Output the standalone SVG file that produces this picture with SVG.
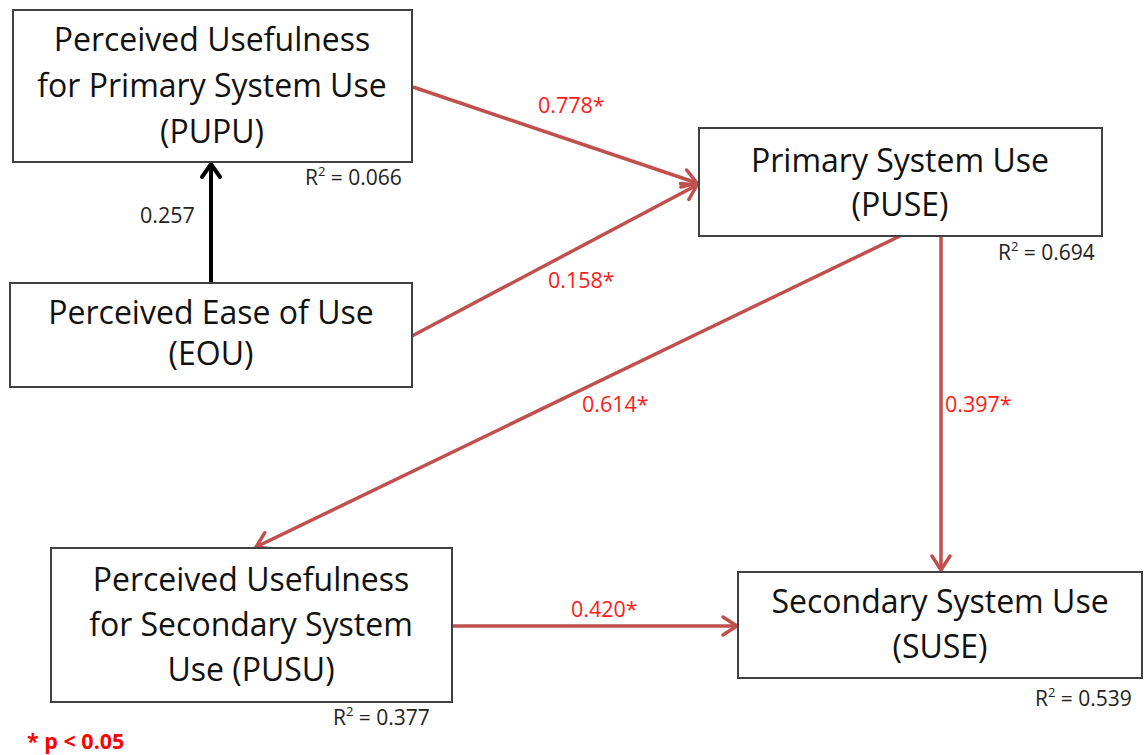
<svg xmlns="http://www.w3.org/2000/svg" width="1146" height="755" viewBox="0 0 1146 755">
<style>
.box{fill:#fff;stroke:#404040;stroke-width:2}
.t{font-family:"Open Sans",Lato,sans-serif;font-size:32px;fill:#111;text-anchor:middle}
.r2{font-family:"Open Sans",Lato,sans-serif;font-size:21px;fill:#222}
.lbl{font-family:"Open Sans",Lato,sans-serif;font-size:21.5px;fill:#ff1a1a}
.red{stroke:#c0504d;stroke-width:3.5;fill:none}
.blk{stroke:#000;stroke-width:4;fill:none}
</style>
<defs>
<marker id="ar" markerUnits="userSpaceOnUse" markerWidth="40" markerHeight="40" viewBox="-20 -20 40 40" refX="0" refY="0" orient="auto" overflow="visible">
<path d="M-14,-9 L0,0 L-14,9" fill="none" stroke="#c0504d" stroke-width="3.5" stroke-linecap="round" stroke-linejoin="miter"/>
</marker>
<marker id="ab" markerUnits="userSpaceOnUse" markerWidth="40" markerHeight="40" viewBox="-20 -20 40 40" refX="0" refY="0" orient="auto" overflow="visible">
<path d="M-13,-9 L0,0 L-13,9" fill="none" stroke="#000" stroke-width="4" stroke-linecap="round"/>
</marker>
</defs>
<rect width="1146" height="755" fill="#fff"/>
<g id="connectors">
<line class="blk" x1="211" y1="283" x2="211" y2="164" marker-end="url(#ab)"/>
<line class="red" x1="413" y1="87" x2="697" y2="183" marker-end="url(#ar)"/>
<line class="red" x1="412" y1="336" x2="697" y2="185" marker-end="url(#ar)"/>
<line class="red" x1="900" y1="236" x2="256" y2="547" marker-end="url(#ar)"/>
<line class="red" x1="941" y1="236" x2="941" y2="570" marker-end="url(#ar)"/>
<line class="red" x1="452" y1="626" x2="737" y2="626" marker-end="url(#ar)"/>
<text class="lbl" x="140" y="223" style="fill:#222">0.257</text>
<text class="lbl" x="538" y="113">0.778*</text>
<text class="lbl" x="548" y="288">0.158*</text>
<text class="lbl" x="582" y="412">0.614*</text>
<text class="lbl" x="945" y="412">0.397*</text>
<text class="lbl" x="571" y="617">0.420*</text>
</g>
<g id="PUPU">
<rect class="box" x="13" y="10" width="399" height="152"/>
<text class="t" x="212" y="51">Perceived Usefulness</text>
<text class="t" x="212" y="97">for Primary System Use</text>
<text class="t" x="212" y="143">(PUPU)</text>
<text class="r2" x="305" y="185">R<tspan font-size="13" dy="-9">2</tspan><tspan dy="9"> = 0.066</tspan></text>
</g>
<g id="EOU">
<rect class="box" x="10" y="283" width="402" height="104"/>
<text class="t" x="211" y="324">Perceived Ease of Use</text>
<text class="t" x="211" y="365">(EOU)</text>
</g>
<g id="PUSE">
<rect class="box" x="699" y="128" width="403" height="108"/>
<text class="t" x="900" y="172">Primary System Use</text>
<text class="t" x="900" y="216">(PUSE)</text>
<text class="r2" x="998" y="260">R<tspan font-size="13" dy="-9">2</tspan><tspan dy="9"> = 0.694</tspan></text>
</g>
<g id="PUSU">
<rect class="box" x="51" y="548" width="401" height="154"/>
<text class="t" x="251" y="591">Perceived Usefulness</text>
<text class="t" x="251" y="636">for Secondary System</text>
<text class="t" x="251" y="681">Use (PUSU)</text>
<text class="r2" x="333" y="725">R<tspan font-size="13" dy="-9">2</tspan><tspan dy="9"> = 0.377</tspan></text>
</g>
<g id="SUSE">
<rect class="box" x="738" y="572" width="404" height="106"/>
<text class="t" x="940" y="613">Secondary System Use</text>
<text class="t" x="940" y="658">(SUSE)</text>
<text class="r2" x="1035" y="706">R<tspan font-size="13" dy="-9">2</tspan><tspan dy="9"> = 0.539</tspan></text>
</g>
<g id="legend">
<text x="27" y="749" style="font-family:'Open Sans',Lato,sans-serif;font-size:21.5px;font-weight:bold;fill:#ff0000">* p &lt; 0.05</text>
</g>
</svg>
